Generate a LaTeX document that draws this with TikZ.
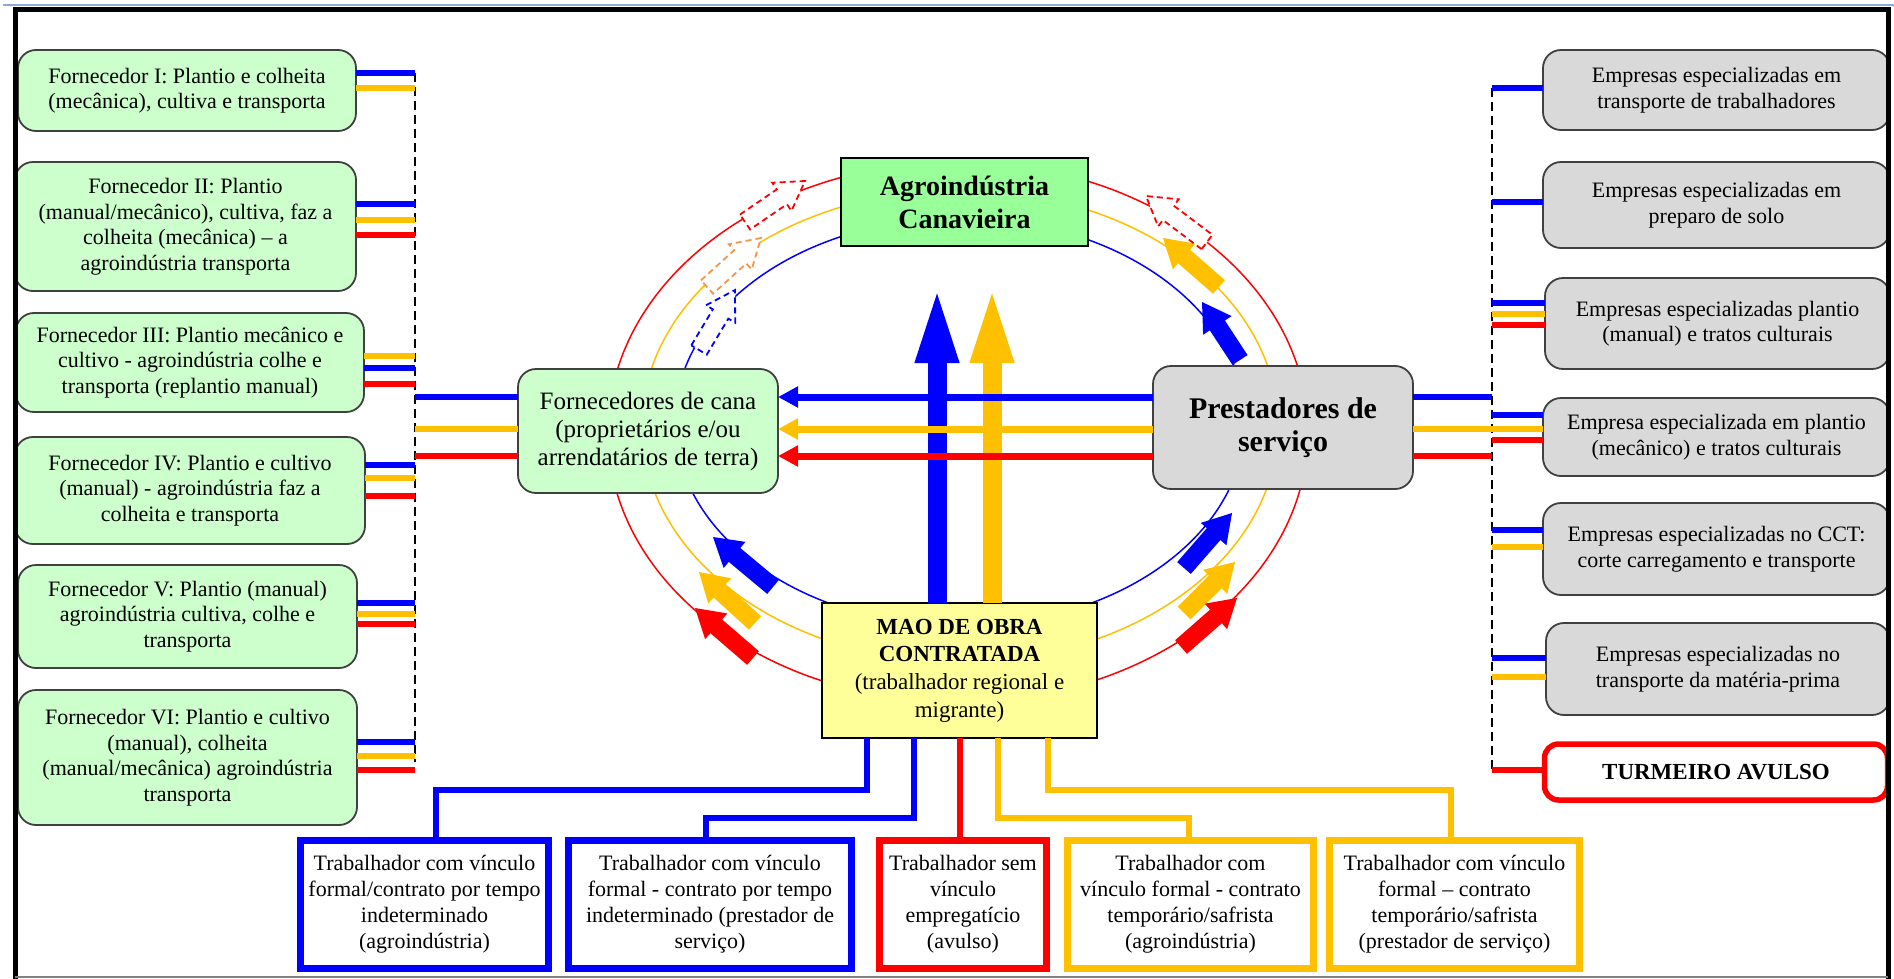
\documentclass[tikz,border=0pt]{standalone}
\usepackage{fontspec}
\setmainfont{Liberation Serif}
\usetikzlibrary{calc,arrows.meta}
\definecolor{cblue}{RGB}{0,0,255}
\definecolor{cyel}{RGB}{255,192,0}
\definecolor{cred}{RGB}{255,0,0}
\definecolor{corange}{RGB}{247,150,70}
\definecolor{lgreen}{RGB}{204,255,204}
\definecolor{agreen}{RGB}{153,255,153}
\definecolor{lgray}{RGB}{217,217,217}
\definecolor{lyellow}{RGB}{255,255,153}
\definecolor{edgec}{RGB}{64,64,64}
\definecolor{topblue}{RGB}{142,169,219}
\newcommand\blockarr[3]{%
  \coordinate (ba-t) at #2; \coordinate (ba-p) at #3;
  \coordinate (ba-h) at ($(ba-p)!28pt!(ba-t)$);
  \path[#1] ($(ba-t)!9pt!90:(ba-p)$) -- ($(ba-h)!9pt!90:(ba-p)$) -- ($(ba-h)!17pt!90:(ba-p)$) -- (ba-p)
    -- ($(ba-h)!17pt!-90:(ba-p)$) -- ($(ba-h)!9pt!-90:(ba-p)$) -- ($(ba-t)!9pt!-90:(ba-p)$) -- cycle;}
\newcommand\lst[3]{\draw[#1] (#2.east |- 0,#3) -- (ldash |- 0,#3);}
\newcommand\rst[3]{\draw[#1] (rdash |- 0,#3) -- (#2.west |- 0,#3);}
\begin{document}
\begin{tikzpicture}[x=1pt,y=-1pt,
  every node/.style={inner sep=0pt,outer sep=0pt},
  lbox/.style={draw=edgec,line width=1.8pt,fill=lgreen,rounded corners=18pt,align=center,font=\fontsize{22}{25.5}\selectfont},
  rbox/.style={lbox,fill=lgray},
  bbox/.style={fill=white,line width=7pt,align=center,font=\fontsize{22}{26}\selectfont},
  stubB/.style={draw=cblue,line width=5.5pt},
  stubY/.style={draw=cyel,line width=5.5pt},
  stubR/.style={draw=cred,line width=5.5pt},
  vdash/.style={draw=black,line width=2pt,dash pattern=on 9pt off 5pt},
  ring/.style={line width=1.5pt},
  harr/.style={line width=7pt,-{Triangle[width=20pt,length=20pt]}},
  varr/.style={line width=19pt,-{Triangle[width=38pt,length=80pt]}},
  conn/.style={line width=6pt},
  sarr/.style={draw=none},
  darr/.style={fill=white,line width=1.8pt,dash pattern=on 6pt off 4pt},
]
\useasboundingbox (0,0) rectangle (1894,979);
\fill[white] (0,0) rectangle (1894,979);

% rings
\draw[ring,cred] (958,432) ellipse [x radius=350pt, y radius=270pt];
\draw[ring,cyel] (960,426) ellipse [x radius=318pt, y radius=236pt];
\draw[ring,cblue] (960,422) ellipse [x radius=285pt, y radius=204pt];

% ring arrows
\blockarr{sarr,fill=cblue}{(773,587)}{(713,537)}
\blockarr{sarr,fill=cyel}{(755,623)}{(699,572)}
\blockarr{sarr,fill=cred}{(753,658)}{(695,608)}
\blockarr{sarr,fill=cblue}{(1184,568)}{(1232,513)}
\blockarr{sarr,fill=cyel}{(1184,613)}{(1235,562)}
\blockarr{sarr,fill=cred}{(1181,647)}{(1237,598)}
\blockarr{sarr,fill=cyel}{(1219,287)}{(1163,238)}
\blockarr{sarr,fill=cblue}{(1240,360)}{(1202,302)}
\blockarr{darr,draw=cred}{(1207,242)}{(1146,196)}
\blockarr{darr,draw=cred}{(745,222)}{(805,181)}
\blockarr{darr,draw=corange}{(707,287)}{(761,238)}
\blockarr{darr,draw=cblue}{(699,350)}{(735,290)}

% left boxes
\node[lbox,minimum width=338pt,minimum height=81pt] (f1) at (187,90.5) {Fornecedor I: Plantio e colheita\\(mecânica), cultiva e transporta};
\node[lbox,minimum width=341pt,minimum height=129pt] (f2) at (185.5,226.5) {Fornecedor II: Plantio\\(manual/mecânico), cultiva, faz a\\colheita (mecânica) – a\\agroindústria transporta};
\node[lbox,minimum width=348pt,minimum height=99pt] (f3) at (190,362.5) {Fornecedor III: Plantio mecânico e\\cultivo - agroindústria colhe e\\transporta (replantio manual)};
\node[lbox,minimum width=350pt,minimum height=107pt] (f4) at (190,490.5) {Fornecedor IV: Plantio e cultivo\\(manual) - agroindústria faz a\\colheita e transporta};
\node[lbox,minimum width=339pt,minimum height=103pt] (f5) at (187.5,616.5) {Fornecedor V: Plantio (manual)\\agroindústria cultiva, colhe e\\transporta};
\node[lbox,minimum width=339pt,minimum height=135pt] (f6) at (187.5,757.5) {Fornecedor VI: Plantio e cultivo\\(manual), colheita\\(manual/mecânica) agroindústria\\transporta};

% right boxes
\node[rbox,minimum width=347pt,minimum height=80pt] (e1) at (1716.5,90) {Empresas especializadas em\\transporte de trabalhadores};
\node[rbox,minimum width=347pt,minimum height=86pt] (e2) at (1716.5,205) {Empresas especializadas em\\preparo de solo};
\node[rbox,minimum width=345pt,minimum height=91pt] (e3) at (1717.5,323.5) {Empresas especializadas plantio\\(manual) e tratos culturais};
\node[rbox,minimum width=347pt,minimum height=78pt] (e4) at (1716.5,437) {Empresa especializada em plantio\\(mecânico) e tratos culturais};
\node[rbox,minimum width=347pt,minimum height=92pt] (e5) at (1716.5,549) {Empresas especializadas no CCT:\\corte carregamento e transporte};
\node[rbox,minimum width=344pt,minimum height=92pt] (e6) at (1718,669) {Empresas especializadas no\\transporte da matéria-prima};
\node[draw=cred,fill=white,line width=5.5pt,rounded corners=14pt,minimum width=343pt,minimum height=56pt,font=\fontsize{23}{26}\selectfont\bfseries] (tu) at (1716,772) {TURMEIRO AVULSO};

% central boxes
\node[draw=black,line width=1.8pt,fill=agreen,minimum width=247pt,minimum height=88pt,align=center,font=\fontsize{28}{33}\selectfont\bfseries] (agro) at (964.5,202) {Agroindústria\\Canavieira};
\node[lbox,minimum width=260pt,minimum height=124pt,font=\fontsize{25}{28}\selectfont] (forn) at (648,431) {Fornecedores de cana\\(proprietários e/ou\\arrendatários de terra)};
\node[rbox,minimum width=260pt,minimum height=123pt,font=\fontsize{30}{33}\selectfont\bfseries] (prest) at (1283,427.5) {Prestadores de\\serviço};
\node[draw=black,line width=1.8pt,fill=lyellow,minimum width=275pt,minimum height=135pt,align=center,font=\fontsize{23}{27.7}\selectfont] (mao) at (959.5,670.5) {\textbf{MAO DE OBRA}\\\textbf{CONTRATADA}\\(trabalhador regional e\\migrante)};

% bottom boxes
\node[bbox,draw=cblue,minimum width=248pt,minimum height=128pt] (b1) at (424.5,904.5) {Trabalhador com vínculo\\formal/contrato por tempo\\indeterminado\\(agroindústria)};
\node[bbox,draw=cblue,minimum width=283pt,minimum height=128pt] (b2) at (710,904.5) {Trabalhador com vínculo\\formal - contrato por tempo\\indeterminado (prestador de\\serviço)};
\node[bbox,draw=cred,minimum width=167pt,minimum height=128pt] (b3) at (963,904.5) {Trabalhador sem\\vínculo\\empregatício\\(avulso)};
\node[bbox,draw=cyel,minimum width=246pt,minimum height=128pt] (b4) at (1190.5,904.5) {Trabalhador com\\vínculo formal - contrato\\temporário/safrista\\(agroindústria)};
\node[bbox,draw=cyel,minimum width=250pt,minimum height=128pt] (b5) at (1454.5,904.5) {Trabalhador com vínculo\\formal – contrato\\temporário/safrista\\(prestador de serviço)};

% dashed collectors
\coordinate (ldash) at (415,0);
\coordinate (rdash) at (1492,0);
\draw[vdash] (ldash |- 0,73) -- (ldash |- 0,762);
\draw[vdash] (rdash |- 0,88) -- (rdash |- 0,770);

% left stubs
\lst{stubB}{f1}{73} \lst{stubY}{f1}{88}
\lst{stubB}{f2}{204} \lst{stubY}{f2}{220} \lst{stubR}{f2}{235}
\lst{stubY}{f3}{356} \lst{stubB}{f3}{368} \lst{stubR}{f3}{384}
\lst{stubB}{f4}{465} \lst{stubY}{f4}{478} \lst{stubR}{f4}{496}
\lst{stubB}{f5}{603} \lst{stubY}{f5}{614} \lst{stubR}{f5}{624}
\lst{stubB}{f6}{742} \lst{stubY}{f6}{756} \lst{stubR}{f6}{770}
\draw[stubB] (ldash |- 0,397) -- (forn.west |- 0,397);
\draw[stubY] (ldash |- 0,429) -- (forn.west |- 0,429);
\draw[stubR] (ldash |- 0,456) -- (forn.west |- 0,456);

% right stubs
\rst{stubB}{e1}{88}
\rst{stubB}{e2}{202}
\rst{stubB}{e3}{303} \rst{stubY}{e3}{314} \rst{stubR}{e3}{325}
\rst{stubB}{e4}{415} \rst{stubY}{e4}{429} \rst{stubR}{e4}{440}
\rst{stubB}{e5}{530} \rst{stubY}{e5}{547}
\rst{stubB}{e6}{658} \rst{stubY}{e6}{677}
\rst{stubR}{tu}{770}
\draw[stubB] (prest.east |- 0,397) -- (rdash |- 0,397);
\draw[stubY] (prest.east |- 0,429) -- (rdash |- 0,429);
\draw[stubR] (prest.east |- 0,456) -- (rdash |- 0,456);

% central arrows
\draw[varr,cblue] (mao.north -| 937,0) -- (937,283);
\draw[varr,cyel] (mao.north -| 992,0) -- (992,283);
\draw[harr,cblue] (prest.west |- 0,397) -- (forn.east |- 0,397);
\draw[harr,cyel] (prest.west |- 0,429) -- (forn.east |- 0,429);
\draw[harr,cred] (prest.west |- 0,456) -- (forn.east |- 0,456);

% bottom connectors
\coordinate (m1) at ($(mao.south)+(-92.5,0)$);
\coordinate (m2) at ($(mao.south)+(-45.5,0)$);
\coordinate (m3) at ($(mao.south)+(0.5,0)$);
\coordinate (m4) at ($(mao.south)+(38.5,0)$);
\coordinate (m5) at ($(mao.south)+(88.5,0)$);
\draw[conn,cblue] (m1) -- ++(0,52) -| ($(b1.north)+(11.5,0)$);
\draw[conn,cblue] (m2) -- ++(0,80) -| ($(b2.north)+(-4,0)$);
\draw[conn,cred] (m3) -- (m3 |- b3.north);
\draw[conn,cyel] (m4) -- ++(0,80) -| ($(b4.north)+(-1.5,0)$);
\draw[conn,cyel] (m5) -- ++(0,52) -| ($(b5.north)+(-3.5,0)$);

% frame
\draw[topblue,line width=1.2pt] (3,5) -- (1894,5);
\draw[black,line width=5pt] (15,979) -- (15,10) -- (1888,10) -- (1888,979);
\draw[gray,line width=1.5pt] (15,977) -- (1888,977);
\end{tikzpicture}
\end{document}
